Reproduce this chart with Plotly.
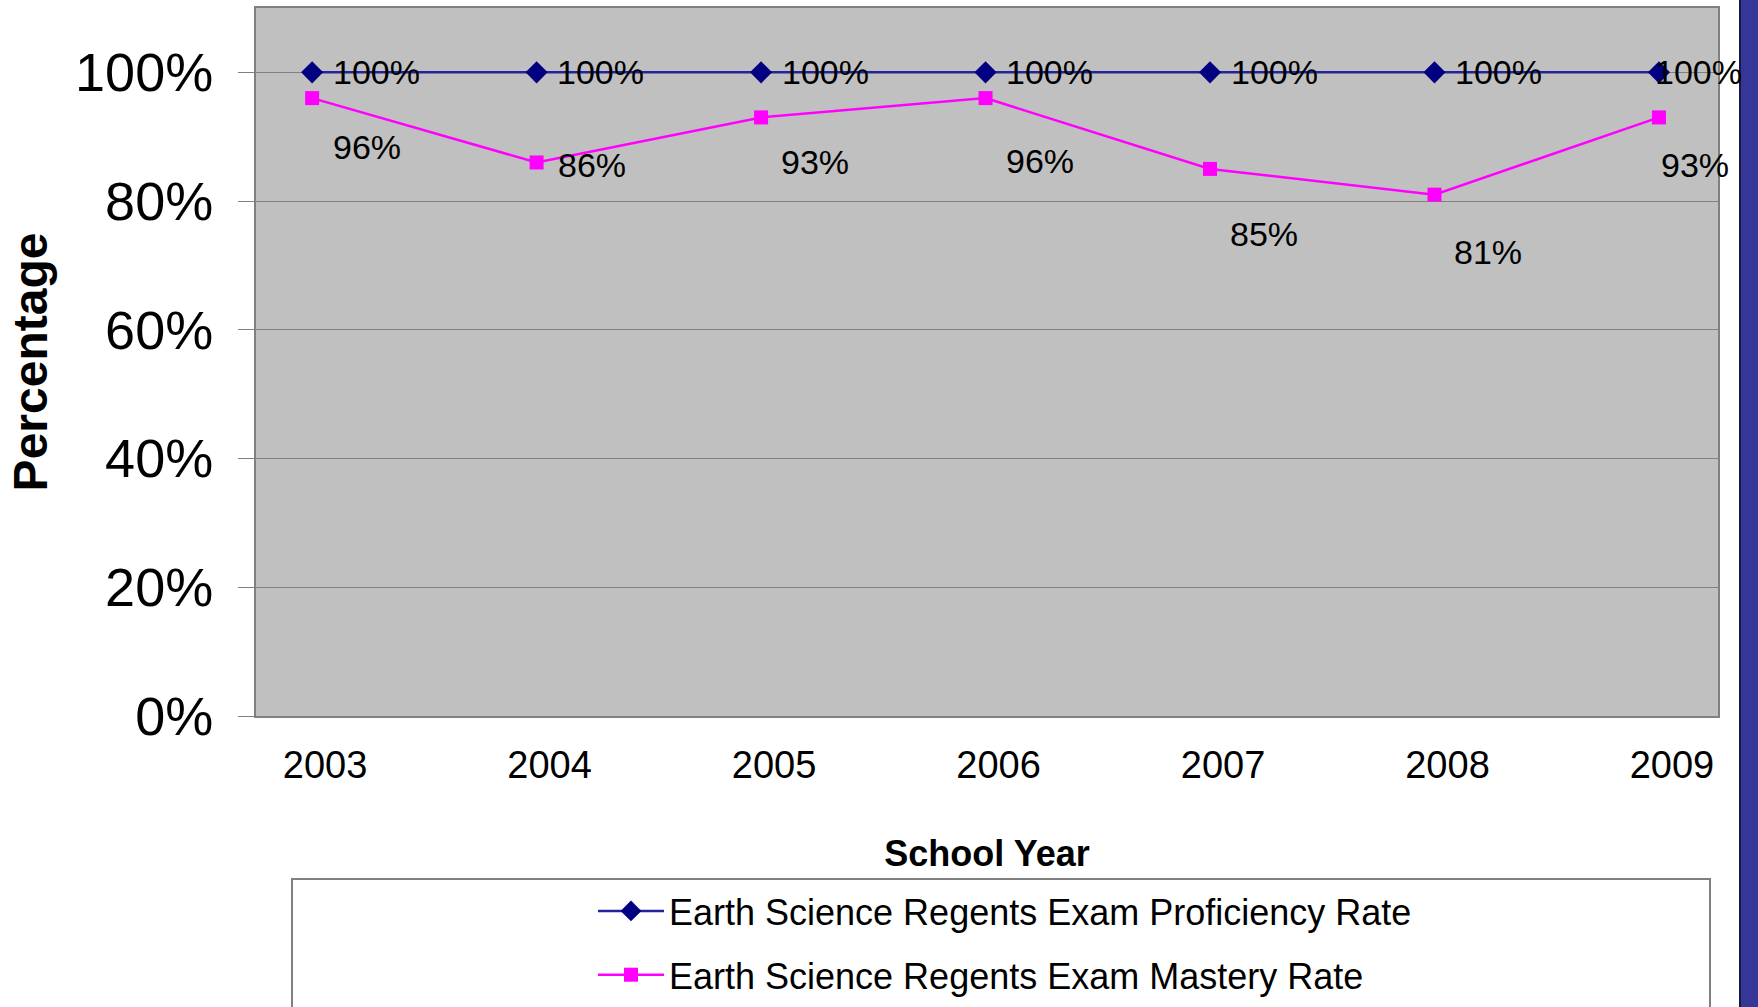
import plotly.graph_objects as go

years = ["2003", "2004", "2005", "2006", "2007", "2008", "2009"]
proficiency = [100, 100, 100, 100, 100, 100, 100]
mastery = [96, 86, 93, 96, 85, 81, 93]
y_ticks = [0, 20, 40, 60, 80, 100]

prof_name = "Earth Science Regents Exam Proficiency Rate"
mast_name = "Earth Science Regents Exam Mastery Rate"

# label offsets in pixels (style only)
prof_label_dx = [64, 64, 64, 64, 64, 64, 40]
prof_label_dy = [0, 0, 0, 0, 0, 0, 0]
mast_label_dx = [55, 55, 54, 54, 54, 54, 36]
mast_label_dy = [-49, -3, -45, -63, -65, -57, -48]

FONT = "Liberation Sans, Arial, sans-serif"

fig = go.Figure()
fig.add_trace(go.Scatter(
    x=years, y=proficiency, name=prof_name, mode="lines+markers",
    line=dict(color="#24249a", width=2.5),
    marker=dict(symbol="diamond", size=17, color="#000080"),
    legendgroup="a",
))
fig.add_trace(go.Scatter(
    x=years, y=mastery, name=mast_name, mode="lines+markers",
    line=dict(color="#FF00FF", width=2.5),
    marker=dict(symbol="square", size=14, color="#FF00FF"),
    legendgroup="b",
))

annotations = []
for i, v in enumerate(proficiency):
    annotations.append(dict(x=i, y=v, xref="x", yref="y", text=f"{v}%",
                            showarrow=False, xshift=prof_label_dx[i], yshift=prof_label_dy[i],
                            font=dict(family=FONT, size=34, color="black")))
for i, v in enumerate(mastery):
    annotations.append(dict(x=i, y=v, xref="x", yref="y", text=f"{v}%",
                            showarrow=False, xshift=mast_label_dx[i], yshift=mast_label_dy[i],
                            font=dict(family=FONT, size=34, color="black")))

L, R, T, B = 256, 1718, 8, 716
W, H = 1758, 1007
pw, ph = R - L, B - T

def px(x):
    return (x - L) / pw

def py(y):
    return (B - y) / ph

shapes = [
    # legend box
    dict(type="rect", xref="paper", yref="paper", x0=px(292), x1=px(1710), y0=py(1015), y1=py(879),
         line=dict(color="#808080", width=2), fillcolor="white", layer="below"),
    # right-side blue band
    dict(type="rect", xref="paper", yref="paper", x0=px(1740), x1=px(1765), y0=py(1015), y1=py(-5),
         line=dict(color="#1a1a40", width=2), fillcolor="#363699", layer="above"),
]

fig.update_layout(
    width=W, height=H,
    margin=dict(l=L, r=W - R, t=T, b=H - B, pad=0, autoexpand=False),
    paper_bgcolor="white", plot_bgcolor="#C0C0C0",
    font=dict(family=FONT, color="black"),
    showlegend=True,
    legend=dict(x=px(593), y=py(881), xanchor="left", yanchor="top",
                bgcolor="rgba(0,0,0,0)", borderwidth=0,
                font=dict(family=FONT, size=36, color="black"),
                traceorder="grouped", tracegroupgap=14, itemwidth=66),
    annotations=annotations,
    shapes=shapes,
    xaxis=dict(type="category", range=[-0.25, 6.263], showgrid=False,
               showline=True, mirror=True, linecolor="#808080", linewidth=2,
               ticks="", tickfont=dict(family=FONT, size=38, color="black"),
               ticklabelstandoff=14, ticklabelshift=13,
               title=dict(text="<b>School Year</b>", font=dict(family=FONT, size=36, color="black"),
                          standoff=56)),
    yaxis=dict(range=[0, 110], tickvals=y_ticks, ticktext=[f"{v}%" for v in y_ticks],
               showgrid=True, gridcolor="#808080", gridwidth=1,
               showline=True, mirror=True, linecolor="#808080", linewidth=2,
               ticks="outside", ticklen=16, tickcolor="#808080", tickwidth=1,
               tickfont=dict(family=FONT, size=54, color="black"),
               ticklabelstandoff=14, zeroline=False, automargin=True,
               title=dict(text="<b>Percentage</b>", font=dict(family=FONT, size=48, color="black"),
                          standoff=12)),
)

fig.write_html(
    "out.html",
    config={"displayModeBar": False},
    post_script=["document.body.style.margin='0px';document.body.style.overflow='hidden';"],
)
